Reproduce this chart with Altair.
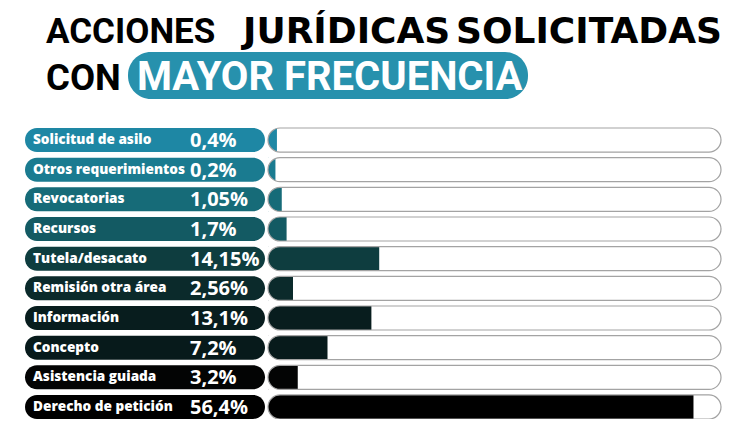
import pandas as pd
import altair as alt

# Data (top to bottom as in the graphic)
categories = [
    "Solicitud de asilo", "Otros requerimientos", "Revocatorias", "Recursos",
    "Tutela/desacato", "Remisión otra área", "Información", "Concepto",
    "Asistencia guiada", "Derecho de petición",
]
percent = [0.4, 0.2, 1.05, 1.7, 14.15, 2.56, 13.1, 7.2, 3.2, 56.4]

# Palette: teal fading to black
row_colors = [
    "#1e87a4", "#1a7b90", "#166b78", "#135a63", "#0e3d3f",
    "#0b2a2b", "#081d1e", "#071a1b", "#030404", "#000000",
]
TEAL = "#2791ad"
FONT = "Open Sans"
TITLE_FONT = "Roboto"
HEAVY_FONT = "DejaVu Sans"

df = pd.DataFrame({"cat": categories, "pct": percent})
df["label"] = [str(v).replace(".", ",") + "%" for v in percent]

y_enc = alt.Y("cat:N", sort=categories, axis=None,
              scale=alt.Scale(range=[120, 411], paddingInner=0.19, paddingOuter=0))
color_enc = alt.Color("cat:N", scale=alt.Scale(domain=categories, range=row_colors), legend=None)
# track spans the whole scale; bars start at the left end of the track
X_MIN, X_MAX = -0.8, 60.1
x_scale = alt.Scale(domain=[X_MIN, X_MAX], range=[260, 713], zero=False, nice=False)

base = alt.Chart(df)

track_bg = base.mark_bar(cornerRadius=12, fill="white").encode(
    x=alt.value(260), x2=alt.value(713), y=y_enc
)
fill_bar = base.mark_bar().encode(
    x=alt.X("pct:Q", scale=x_scale, axis=None), x2=alt.datum(X_MIN), y=y_enc, color=color_enc,
    tooltip=["cat:N", "label:N"]
)
# white ring that rounds off the left end of the filled bars
mask = base.mark_bar(cornerRadius=14.5, height=29, fillOpacity=0, stroke="white", strokeWidth=5).encode(
    x=alt.value(257.5), x2=alt.value(715.5), y=y_enc
)
track_line = base.mark_bar(cornerRadius=12, fillOpacity=0, stroke="#a3a3a3", strokeWidth=1.2).encode(
    x=alt.value(260), x2=alt.value(713), y=y_enc
)
pills = base.mark_bar(cornerRadius=12).encode(
    x=alt.value(17), x2=alt.value(257), y=y_enc, color=color_enc
)
cat_text = base.mark_text(align="left", baseline="middle", font=FONT, fontWeight=800,
                          fontSize=13.6, color="white").encode(
    x=alt.value(25), y=y_enc, text="cat:N"
)
pct_text = base.mark_text(align="left", baseline="middle", font=FONT, fontWeight="bold",
                          fontSize=20, color="white", dy=1).encode(
    x=alt.value(182), y=y_enc, text="label:N"
)

one = pd.DataFrame({"t": [""]})
title_pill = alt.Chart(one).mark_bar(cornerRadius=23, color=TEAL).encode(
    x=alt.value(120), x2=alt.value(520), y=alt.value(44), y2=alt.value(91)
)


def title_text(txt, x, y, weight, font, size, color="black"):
    return alt.Chart(pd.DataFrame({"t": [txt]})).mark_text(
        align="left", baseline="alphabetic", font=font, fontWeight=weight,
        fontSize=size, color=color
    ).encode(x=alt.value(x), y=alt.value(y), text="t:N")


titles = [
    title_text("ACCIONES", 38, 34.5, "bold", TITLE_FONT, 35),
    title_text("JURÍDICAS", 235, 34.5, "bold", HEAVY_FONT, 36),
    title_text("SOLICITADAS", 448, 34.5, "bold", HEAVY_FONT, 36),
    title_text("CON", 38, 81.5, "bold", TITLE_FONT, 36.5),
    title_text("MAYOR FRECUENCIA", 129, 81.5, "bold", TITLE_FONT, 40, color="white"),
]

chart = alt.layer(
    track_bg, fill_bar, mask, track_line, pills, cat_text, pct_text, title_pill, *titles
).properties(
    width=731, height=411, padding=0, autosize=alt.AutoSizeParams(type="none"),
    background="white"
).configure_view(stroke=None)

chart.save("out.html", embed_options={"renderer": "svg", "actions": False})
